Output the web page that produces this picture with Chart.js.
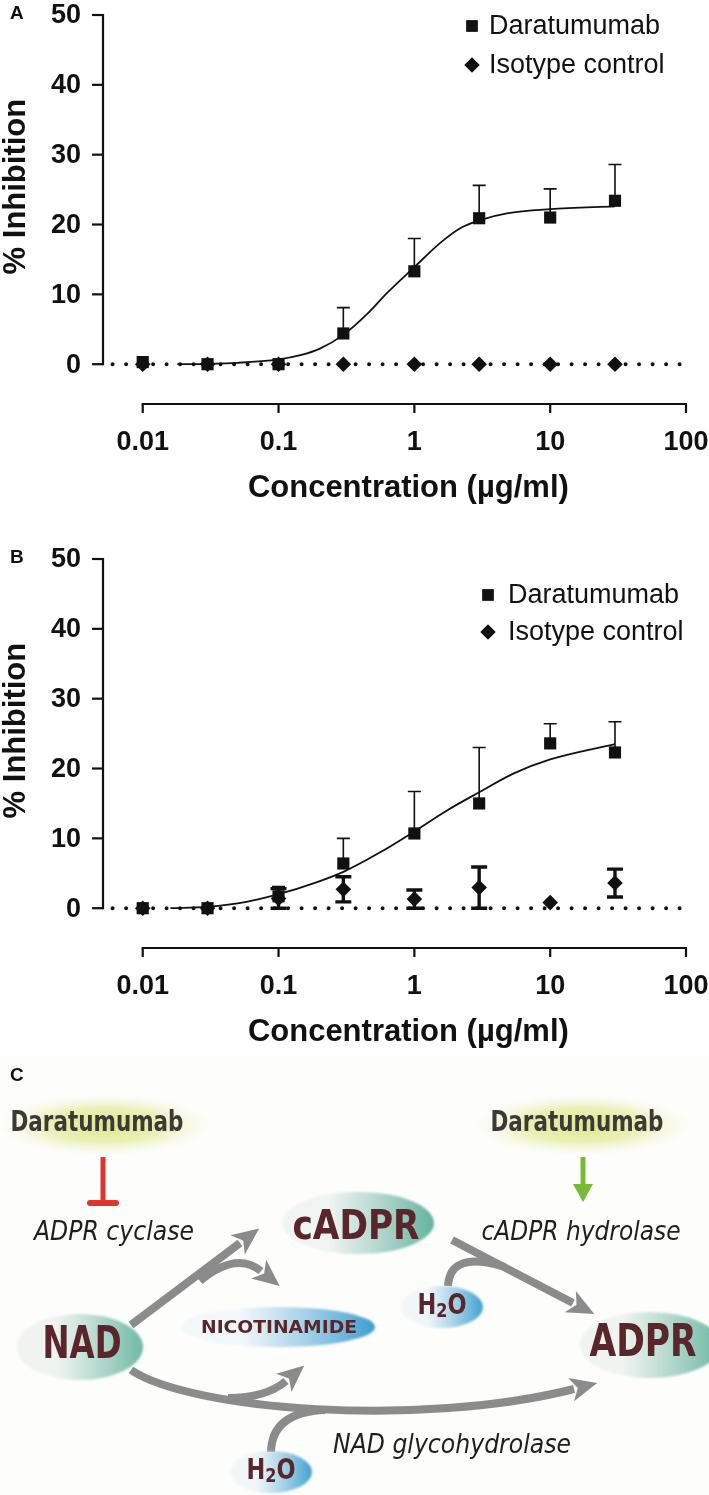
<!DOCTYPE html>
<html>
<head>
<meta charset="utf-8">
<script src="https://cdn.jsdelivr.net/npm/chart.js"></script>
<style>
  html, body { margin: 0; padding: 0; background: #fff; }
  body { width: 709px; height: 1495px; position: relative; overflow: hidden; }
  canvas { position: absolute; left: 0; }
  #chartA { top: 0; }
  #chartB { top: 544px; }
  #diagram { top: 1055px; }
</style>
</head>
<body>
<canvas id="chartA" width="709" height="530"></canvas>
<canvas id="chartB" width="709" height="511"></canvas>
<canvas id="diagram" width="709" height="440"></canvas>
<script>
// shared axes
const concentrations = [0.01, 0.03, 0.1, 0.3, 1, 3, 10, 30];
const yTicks = [0, 10, 20, 30, 40, 50];
const xTicks = [0.01, 0.1, 1, 10, 100];
const xTickLabels = ['0.01', '0.1', '1', '10', '100'];
const seriesNames = ['Daratumumab', 'Isotype control'];
const zeroLineX = [0.006, 100];
const yTitle = '% Inhibition';
const xTitle = 'Concentration (\u00b5g/ml)';

// panel A
const daraA = [0.3, 0, 0, 4.4, 13.3, 20.9, 21.0, 23.4];
const daraErrA = [0, 0, 0, 3.7, 4.7, 4.7, 4.1, 5.2];
const isoA = [0, 0, 0, 0, 0, 0, 0, 0];
const isoErrA = [0, 0, 0, 0, 0, 0, 0, 0];
const fitXA = [0.018, 0.03, 0.05, 0.1, 0.145, 0.2, 0.3, 0.45, 0.63, 1, 1.56, 2.19, 3, 4.8, 10, 30];
const fitYA = [0, 0.05, 0.2, 0.7, 1.3, 2.2, 4.2, 7.2, 10.2, 13.9, 17.4, 19.5, 20.6, 21.6, 22.2, 22.6];

// panel B
const daraB = [0, 0, 1.7, 6.4, 10.7, 15.0, 23.6, 22.3];
const daraErrB = [0, 0, 1.4, 3.6, 6.0, 8.0, 2.8, 4.4];
const isoB = [0, 0, 1.4, 2.7, 1.3, 2.95, 0.8, 3.6];
const isoErrB = [0, 0, 1.4, 1.8, 1.3, 2.95, 0, 2.0];
const fitXB = [0.016, 0.03, 0.058, 0.1, 0.19, 0.3, 0.56, 1, 1.74, 3, 5.4, 10, 30];
const fitYB = [0, 0.2, 0.9, 2.0, 3.7, 5.2, 8.0, 11.0, 14.0, 16.6, 19.3, 21.3, 23.5];

const INK = '#111';
const tickFont = 'bold 27px "Liberation Sans", Arial, sans-serif';
const titleFont = 'bold 31px "Liberation Sans", Arial, sans-serif';
const legendFont = '27px "Liberation Sans", Arial, sans-serif';

const errorBars = {
  id: 'errorBars',
  afterDatasetsDraw(chart, args, opts) {
    const ctx = chart.ctx, xs = chart.scales.x, ys = chart.scales.y;
    opts.sets.forEach(s => {
      ctx.save();
      ctx.strokeStyle = INK;
      ctx.lineWidth = s.width;
      s.values.forEach((v, i) => {
        const e = s.errors[i];
        if (!e) return;
        const x = xs.getPixelForValue(concentrations[i]);
        const yTop = ys.getPixelForValue(v + e);
        const yLow = s.both ? ys.getPixelForValue(v - e) : ys.getPixelForValue(v);
        ctx.beginPath();
        ctx.moveTo(x, yLow); ctx.lineTo(x, yTop);
        ctx.moveTo(x - s.cap, yTop); ctx.lineTo(x + s.cap, yTop);
        if (s.both) { ctx.moveTo(x - s.cap, yLow); ctx.lineTo(x + s.cap, yLow); }
        ctx.stroke();
      });
      ctx.restore();
    });
  }
};

const prismAxes = {
  id: 'prismAxes',
  afterDraw(chart, args, opts) {
    const ctx = chart.ctx, xs = chart.scales.x, ys = chart.scales.y;
    const area = chart.chartArea;
    const axX = area.left, axY = area.bottom;
    ctx.save();
    ctx.strokeStyle = INK; ctx.fillStyle = INK; ctx.lineWidth = 2.2;

    // y axis
    const y0 = ys.getPixelForValue(yTicks[0]);
    const y1 = ys.getPixelForValue(yTicks[yTicks.length - 1]);
    ctx.beginPath(); ctx.moveTo(axX, y1 - 1); ctx.lineTo(axX, y0 + 1); ctx.stroke();
    ctx.font = tickFont; ctx.textAlign = 'right'; ctx.textBaseline = 'middle';
    yTicks.forEach(v => {
      const y = ys.getPixelForValue(v);
      ctx.beginPath(); ctx.moveTo(axX - 11, y); ctx.lineTo(axX, y); ctx.stroke();
      ctx.fillText(String(v), axX - 22, y + 1);
    });

    // x axis
    const x0 = xs.getPixelForValue(xTicks[0]);
    const x1 = xs.getPixelForValue(xTicks[xTicks.length - 1]);
    ctx.beginPath(); ctx.moveTo(x0 - 1, axY); ctx.lineTo(x1 + 1, axY); ctx.stroke();
    ctx.textAlign = 'center';
    xTicks.forEach((v, i) => {
      const x = xs.getPixelForValue(v);
      ctx.beginPath(); ctx.moveTo(x, axY); ctx.lineTo(x, axY + 9); ctx.stroke();
      ctx.fillText(xTickLabels[i], x, axY + 39);
    });

    // titles
    ctx.font = titleFont;
    ctx.fillText(xTitle, (x0 + x1) / 2 - 6, axY + 84);
    ctx.save();
    ctx.translate(25, (y0 + y1) / 2 - 3);
    ctx.rotate(-Math.PI / 2);
    ctx.textBaseline = 'alphabetic';
    ctx.fillText(yTitle, 0, 0);
    ctx.restore();

    // panel letter
    ctx.font = 'bold 19px "Liberation Sans", Arial, sans-serif';
    ctx.textAlign = 'left';
    ctx.fillText(opts.letter, 10, opts.letterY);

    // legend
    ctx.font = legendFont;
    const styles = ['rect', 'rectRot'];
    const radii = [8, 7.5];
    seriesNames.forEach((name, i) => {
      const y = opts.legendY[i];
      Chart.helpers.drawPoint(ctx, { pointStyle: styles[i], radius: radii[i], borderWidth: 0 }, opts.markerX, y);
      ctx.fill();
      ctx.textAlign = 'left';
      ctx.fillText(name, opts.textX, y + 1);
    });
    ctx.restore();
  }
};

function buildChart(id, d) {
  const cv = document.getElementById(id);
  const pts = (xs, ys) => xs.map((x, i) => ({ x: x, y: ys[i] }));
  return new Chart(cv, {
    type: 'scatter',
    data: {
      datasets: [
        { label: seriesNames[1], data: pts(concentrations, d.iso), pointStyle: 'rectRot',
          pointRadius: 7.8, backgroundColor: INK, borderColor: INK, borderWidth: 0, order: 0 },
        { label: seriesNames[0], data: pts(concentrations, d.dara), pointStyle: 'rect',
          pointRadius: 8.6, backgroundColor: INK, borderColor: INK, borderWidth: 0, order: 1 },
        { label: 'fit', type: 'line', data: pts(d.fitX, d.fitY), pointRadius: 0,
          borderColor: INK, borderWidth: 1.8, cubicInterpolationMode: 'monotone', fill: false, order: 2 },
        { label: 'baseline', type: 'line', data: pts(zeroLineX, [0, 0]), pointRadius: 0,
          borderColor: INK, borderWidth: 4, borderDash: [0, 13.5], borderCapStyle: 'round', fill: false, order: 3 }
      ]
    },
    options: {
      responsive: false,
      animation: false,
      devicePixelRatio: 1,
      layout: { padding: { left: 103, right: 23, top: 15, bottom: cv.height - 404 } },
      scales: {
        x: { type: 'logarithmic', min: 0.0051, max: 100, display: false },
        y: { type: 'linear', min: -5.7, max: 50, display: false }
      },
      plugins: {
        legend: { display: false },
        tooltip: { enabled: false },
        errorBars: { sets: [
          { values: d.dara, errors: d.daraErr, both: false, width: 1.6, cap: 6.5 },
          { values: d.iso, errors: d.isoErr, both: true, width: 3.4, cap: 8 }
        ] },
        prismAxes: d.axes
      }
    },
    plugins: [errorBars, prismAxes]
  });
}

buildChart('chartA', { dara: daraA, daraErr: daraErrA, iso: isoA, isoErr: isoErrA, fitX: fitXA, fitY: fitYA,
  axes: { letter: 'A', letterY: 14, markerX: 472, textX: 489, legendY: [26, 65] } });
buildChart('chartB', { dara: daraB, daraErr: daraErrB, iso: isoB, isoErr: isoErrB, fitX: fitXB, fitY: fitYB,
  axes: { letter: 'B', letterY: 14, markerX: 488, textX: 508, legendY: [51, 88] } });

// panel C: pathway diagram
(function () {
  const cv = document.getElementById('diagram');
  const ctx = cv.getContext('2d');
  ctx.fillStyle = '#fdfdfc';
  ctx.fillRect(0, 0, cv.width, cv.height);
  ctx.translate(0, -1055);

  const maroon = '#5a2629';
  const condensed = '"Liberation Sans Narrow", "DejaVu Sans Condensed", "Liberation Sans", sans-serif';
  const italic = 'italic 27px "Liberation Sans Narrow", "DejaVu Sans Condensed", "Liberation Sans", sans-serif';

  function fitText(text, cx, cy, w, font, color) {
    ctx.save();
    ctx.font = font;
    const m = ctx.measureText(text).width;
    ctx.translate(cx, cy);
    ctx.scale(w / m, 1);
    ctx.fillStyle = color;
    ctx.textAlign = 'center';
    ctx.textBaseline = 'middle';
    ctx.fillText(text, 0, 0);
    ctx.restore();
  }
  function glow(cx, cy, rx, ry) {
    ctx.save();
    ctx.translate(cx, cy);
    ctx.scale(rx / ry, 1);
    const g = ctx.createRadialGradient(0, 0, 0, 0, 0, ry);
    g.addColorStop(0, 'rgba(221,229,130,0.95)');
    g.addColorStop(0.55, 'rgba(228,235,160,0.75)');
    g.addColorStop(1, 'rgba(245,247,215,0)');
    ctx.fillStyle = g;
    ctx.beginPath(); ctx.arc(0, 0, ry, 0, Math.PI * 2); ctx.fill();
    ctx.restore();
  }
  function blob(cx, cy, rx, ry, c0, c1) {
    ctx.save();
    const g = ctx.createLinearGradient(cx - rx, cy, cx + rx, cy);
    g.addColorStop(0, c0);
    g.addColorStop(0.3, c0);
    g.addColorStop(1, c1);
    ctx.filter = 'blur(1.2px)';
    ctx.fillStyle = g;
    ctx.beginPath(); ctx.ellipse(cx, cy, rx, ry, 0, 0, Math.PI * 2); ctx.fill();
    ctx.restore();
  }
  function head(bx, by, dx, dy, color) {
    const l = Math.hypot(dx, dy), ux = dx / l, uy = dy / l, px = -uy, py = ux;
    const len = 24, half = 12;
    ctx.fillStyle = color;
    ctx.beginPath();
    ctx.moveTo(bx + ux * len, by + uy * len);
    ctx.lineTo(bx - ux * 3 + px * half, by - uy * 3 + py * half);
    ctx.lineTo(bx + ux * 4, by + uy * 4);
    ctx.lineTo(bx - ux * 3 - px * half, by - uy * 3 - py * half);
    ctx.closePath(); ctx.fill();
  }
  function arrow(p, withHead) {
    const grey = '#8b8b8b';
    ctx.save();
    ctx.strokeStyle = grey; ctx.lineWidth = 8; ctx.lineCap = 'butt';
    ctx.beginPath();
    ctx.moveTo(p[0], p[1]);
    let cx, cy;
    if (p.length === 4) { ctx.lineTo(p[2], p[3]); cx = p[0]; cy = p[1]; }
    else if (p.length === 6) { ctx.quadraticCurveTo(p[2], p[3], p[4], p[5]); cx = p[2]; cy = p[3]; }
    else { ctx.bezierCurveTo(p[2], p[3], p[4], p[5], p[6], p[7]); cx = p[4]; cy = p[5]; }
    ctx.stroke();
    const ex = p[p.length - 2], ey = p[p.length - 1];
    if (withHead) head(ex, ey, ex - cx, ey - cy, grey);
    ctx.restore();
  }
  function water(cx, cy, w) {
    blob(cx, cy, 41, 21, 'rgba(236,244,248,0.7)', '#3fa1d0');
    ctx.save();
    ctx.translate(cx, cy);
    ctx.fillStyle = maroon;
    ctx.textBaseline = 'middle';
    ctx.font = 'bold 28px ' + condensed;
    const wH = ctx.measureText('H').width, wO = ctx.measureText('O').width;
    ctx.font = 'bold 20px ' + condensed;
    const w2 = ctx.measureText('2').width;
    const total = wH + w2 + wO;
    ctx.scale(w / total, 1);
    let x = -total / 2;
    ctx.textAlign = 'left';
    ctx.font = 'bold 28px ' + condensed; ctx.fillText('H', x, 0); x += wH;
    ctx.font = 'bold 20px ' + condensed; ctx.fillText('2', x, 5); x += w2;
    ctx.font = 'bold 28px ' + condensed; ctx.fillText('O', x, 0);
    ctx.restore();
  }

  // panel letter
  ctx.fillStyle = INK;
  ctx.font = 'bold 19px "Liberation Sans", Arial, sans-serif';
  ctx.textAlign = 'left'; ctx.textBaseline = 'middle';
  ctx.fillText('C', 10, 1076);

  // antibody labels
  glow(105, 1125, 108, 31);
  glow(582, 1125, 110, 31);
  fitText('Daratumumab', 97, 1123, 173, 'bold 29px ' + condensed, '#3a3a38');
  fitText('Daratumumab', 577, 1123, 173, 'bold 29px ' + condensed, '#3a3a38');

  // inhibition (red) and activation (green)
  ctx.save();
  ctx.strokeStyle = '#e1342b'; ctx.lineWidth = 5;
  ctx.beginPath(); ctx.moveTo(103, 1157); ctx.lineTo(103, 1201); ctx.stroke();
  ctx.lineWidth = 6; ctx.lineCap = 'round';
  ctx.beginPath(); ctx.moveTo(90, 1203); ctx.lineTo(116, 1203); ctx.stroke();
  ctx.restore();
  ctx.save();
  ctx.strokeStyle = '#7ab838'; ctx.lineWidth = 5;
  ctx.beginPath(); ctx.moveTo(583, 1157); ctx.lineTo(583, 1186); ctx.stroke();
  ctx.fillStyle = '#7ab838';
  ctx.beginPath(); ctx.moveTo(573, 1184); ctx.lineTo(593, 1184); ctx.lineTo(583, 1202); ctx.closePath(); ctx.fill();
  ctx.restore();

  fitText('ADPR cyclase', 114, 1233, 160, italic, '#1e1e1e');
  fitText('cADPR hydrolase', 581, 1233, 199, italic, '#1e1e1e');
  fitText('NAD glycohydrolase', 452, 1446, 238, italic, '#1e1e1e');

  // reaction arrows
  arrow([131, 1325, 240, 1243], true);
  arrow([200, 1281, 236, 1251, 261, 1271], true);
  arrow([452, 1240, 573, 1303], true);
  arrow([448, 1286, 450, 1250, 505, 1267], false);
  arrow([131, 1370, 190, 1410, 420, 1428, 574, 1389], true);
  arrow([228, 1398, 266, 1398, 286, 1381], true);
  arrow([271, 1452, 272, 1412, 325, 1410], false);

  // molecules
  blob(358, 1223, 76, 31, 'rgba(238,242,240,0.85)', '#64b39f');
  fitText('cADPR', 356, 1229, 127, 'bold 40px ' + condensed, maroon);
  blob(80, 1347, 63, 33, 'rgba(236,242,238,0.85)', '#70b9a5');
  fitText('NAD', 82, 1347, 79, 'bold 44px ' + condensed, maroon);
  blob(650, 1345, 70, 33, 'rgba(236,242,238,0.85)', '#6cb7a3');
  fitText('ADPR', 643, 1345, 107, 'bold 44px ' + condensed, maroon);
  blob(278, 1327, 97, 20, 'rgba(240,246,250,0.8)', '#3c9fd0');
  fitText('NICOTINAMIDE', 279, 1328, 156, 'bold 18px ' + condensed, maroon);
  water(442, 1307, 49);
  water(271, 1472, 49);
})();
</script>
</body>
</html>
